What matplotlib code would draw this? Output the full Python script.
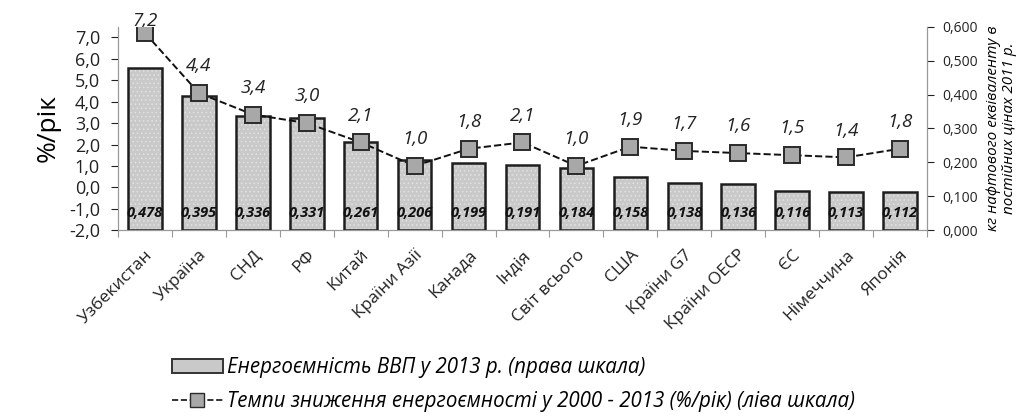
import matplotlib
matplotlib.use('Agg')
import matplotlib.pyplot as plt
from matplotlib.ticker import FuncFormatter, FixedLocator
from matplotlib.lines import Line2D
from matplotlib.patches import Patch
import numpy as np

plt.rcParams['font.family'] = ['Open Sans', 'DejaVu Sans']
plt.rcParams['hatch.linewidth'] = 0.6

# data
countries = ['Узбекистан', 'Україна', 'СНД', 'РФ', 'Китай', 'Країни Азії', 'Канада',
             'Індія', 'Світ всього', 'США', 'Країни G7', 'Країни ОЕСР', 'ЄС',
             'Німеччина', 'Японія']
intensity_2013 = [0.478, 0.395, 0.336, 0.331, 0.261, 0.206, 0.199, 0.191, 0.184,
                  0.158, 0.138, 0.136, 0.116, 0.113, 0.112]
decline_rate = [7.2, 4.4, 3.4, 3.0, 2.1, 1.0, 1.8, 2.1, 1.0, 1.9, 1.7, 1.6, 1.5, 1.4, 1.8]

bar_label = 'Енергоємність ВВП у 2013 р. (права шкала)'
line_label = 'Темпи зниження енергоємності у 2000 - 2013 (%/рік) (ліва шкала)'

def comma(fmt):
    return FuncFormatter(lambda v, p: (fmt % v).replace('.', ','))

fig = plt.figure(figsize=(10.22, 4.17), dpi=100)
ax = fig.add_axes([0.1155, 0.448, 0.7915, 0.488])
ax2 = ax.twinx()

x = np.arange(len(countries))

# bars on the right scale: light dotted fill, then dark outline on top
ax2.bar(x, intensity_2013, width=0.62, color='#c9c9c9', edgecolor='#e2e2e2',
        linewidth=0, hatch='....', zorder=2)
ax2.bar(x, intensity_2013, width=0.62, fill=False, edgecolor='#1e1e1e',
        linewidth=1.8, zorder=3)
for xi, v in zip(x, intensity_2013):
    ax2.text(xi, 0.052, ('%.3f' % v).replace('.', ','), ha='center', va='center',
             fontsize=10.5, fontweight='bold', fontstyle='italic', color='#111111', zorder=5)

ax2.set_ylim(0, 0.6)
ax2.yaxis.set_major_locator(FixedLocator(np.arange(0, 0.61, 0.1)))
ax2.yaxis.set_major_formatter(comma('%.3f'))
ax2.tick_params(axis='y', labelsize=10, colors='#222222', length=5, width=0.8, pad=6)
ax2.set_ylabel('кг нафтового еквіваленту в\nпостійних цінах 2011 р.', fontsize=11,
               fontstyle='italic', rotation=90, labelpad=6, linespacing=1.1)

# line on the left scale, drawn above the bars
ax.set_zorder(ax2.get_zorder() + 1)
ax.patch.set_visible(False)
ax.plot(x, decline_rate, linestyle='--', color='#111111', linewidth=1.4,
        marker='s', markersize=11, markerfacecolor='#a8a8a8',
        markeredgecolor='#2a2a2a', markeredgewidth=1.4, zorder=4)
for xi, v in zip(x, decline_rate):
    ax.text(xi, min(v + 1.25, 7.75), ('%.1f' % v).replace('.', ','), ha='center',
            va='center', fontsize=13.5, fontstyle='italic', color='#222222')

ax.set_ylim(-2, 7.5)
ax.yaxis.set_major_locator(FixedLocator(np.arange(-2, 7.1, 1)))
ax.yaxis.set_major_formatter(comma('%.1f'))
ax.tick_params(axis='y', labelsize=13, colors='#222222', length=5, width=0.8, pad=8)
ax.set_ylabel('%/рік', fontsize=19, labelpad=6)

ax.set_xlim(-0.5, len(countries) - 0.5)
ax.set_xticks(x)
ax.set_xticklabels(countries, rotation=45, ha='right', rotation_mode='anchor',
                   fontsize=12.5, color='#222222')
ax.tick_params(axis='x', length=0, pad=12)
ax.set_xticks(np.arange(-0.5, len(countries), 1), minor=True)
ax.tick_params(axis='x', which='minor', length=5, width=0.8, color='#999999')

for a in (ax, ax2):
    a.spines['top'].set_visible(False)
    for s in ('left', 'right', 'bottom'):
        a.spines[s].set_color('#999999')
        a.spines[s].set_linewidth(0.8)

handles = [Patch(facecolor='#c9c9c9', edgecolor='#333333', linewidth=1.4),
           Line2D([0], [0], linestyle='--', color='#111111', linewidth=1.2,
                  marker='s', markersize=10, markerfacecolor='#a8a8a8',
                  markeredgecolor='#2a2a2a')]
fig.legend(handles, [bar_label, line_label], loc='upper left',
           bbox_to_anchor=(0.168, 0.143), frameon=False,
           prop={'style': 'italic', 'size': 14.8}, handlelength=2.5,
           handleheight=0.7, handletextpad=0.2, labelspacing=0.62,
           borderpad=0, borderaxespad=0)

fig.savefig('out.png', dpi=100)
